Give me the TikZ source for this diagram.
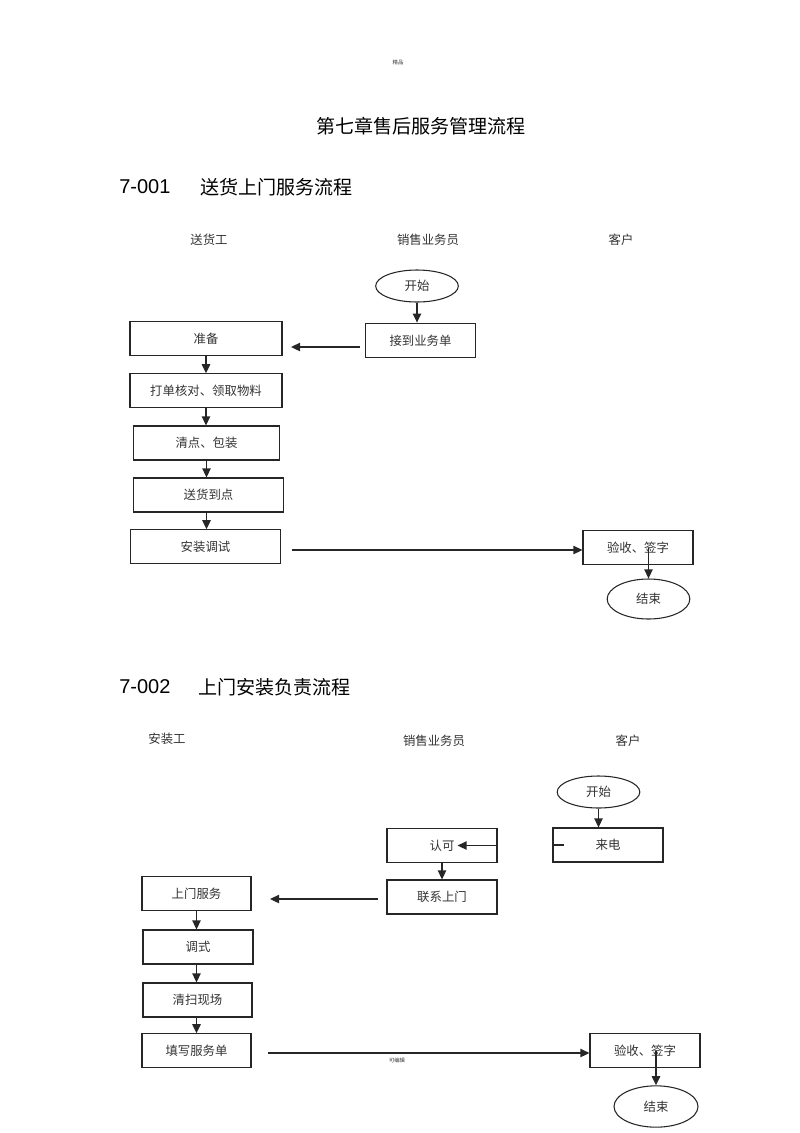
\documentclass[tikz,border=0pt]{standalone}
\usepackage{fontspec}
\setmainfont{Liberation Sans}
\newfontfamily\cjk{Noto Sans CJK SC}
\usetikzlibrary{shapes.geometric,arrows.meta}

\begin{document}
\begin{tikzpicture}[x=0.75pt,y=-0.75pt]
    \tikzstyle{every node}=[inner sep=0pt,font=\cjk\fontsize{9.3pt}{11pt}\selectfont,text=black!80]
    \tikzstyle{box}=[rectangle,draw=black!85,line width=0.8pt,minimum width=82.5pt,minimum height=25pt]
    \tikzstyle{term}=[ellipse,draw=black!85,line width=0.8pt,minimum width=62pt,minimum height=24pt]
    \tikzstyle{lane}=[font=\cjk\fontsize{9.3pt}{11pt}\selectfont]
    \tikzstyle{head}=[font=\fontsize{15pt}{18pt}\selectfont,text=black,anchor=west]
    \tikzstyle{arr}=[-{Triangle[length=6.8pt,width=6.2pt]},line width=1.2pt,black!85]
    \useasboundingbox (0,0) rectangle (800,1133);

    \node[font=\cjk\fontsize{4pt}{5pt}\selectfont] (mark) at (398,62) {精品};
    \node[font=\cjk\fontsize{14.3pt}{17pt}\selectfont,text=black] (title) at (421,126) {第七章售后服务管理流程};

    % 7-001
    \node[head] (num1) at (119,187) {7-001};
    \node[head,font=\cjk\fontsize{14.3pt}{17pt}\selectfont] (name1) at (200,187) {送货上门服务流程};
    \node[lane] (laneA1) at (209,240) {送货工};
    \node[lane] (laneB1) at (428,240) {销售业务员};
    \node[lane] (laneC1) at (621,240) {客户};

    \node[term] (start1) at (417,286) {开始};
    \node[box,minimum height=26pt] (order) at (420.5,340.5) {接到业务单};
    \node[box,minimum width=114pt] (prep) at (206,338.5) {准备};
    \node[box,minimum width=114pt] (check) at (206,390.5) {打单核对、领取物料};
    \node[box,minimum width=110pt,minimum height=25.5pt] (pack) at (206.5,443) {清点、包装};
    \node[box,minimum width=113pt,minimum height=25.5pt] (deliver) at (208.5,495) {送货到点};
    \node[box,minimum width=112pt] (install) at (205.5,546.5) {安装调试};
    \node[box] (accept1) at (638,547.5) {验收、签字};
    \node[term,minimum height=30pt] (end1) at (648.5,599) {结束};
    \coordinate (o1) at (360,347);
    \coordinate (o2) at (291,347);
    \coordinate (i1) at (292,550);

    \draw[arr] (start1.south) -- (start1.south |- order.north);
    \draw[arr] (o1) -- (o2);
    \draw[arr] (prep.south) -- (prep.south |- check.north);
    \draw[arr] (check.south) -- (check.south |- pack.north);
    \draw[arr] (pack.south) -- (pack.south |- deliver.north);
    \draw[arr] (deliver.south -| pack.south) -- (pack.south |- install.north);
    \draw[arr] (i1) -- (i1 -| accept1.west);
    \draw[arr] (end1.north |- accept1.center) -- (end1.north);

    % 7-002
    \node[head] (num2) at (119,687) {7-002};
    \node[head,font=\cjk\fontsize{14.3pt}{17pt}\selectfont] (name2) at (198,687) {上门安装负责流程};
    \node[lane] (laneA2) at (167,739) {安装工};
    \node[lane] (laneB2) at (434,741) {销售业务员};
    \node[lane] (laneC2) at (628,741) {客户};

    \node[term] (start2) at (598.5,792) {开始};
    \node[box,minimum height=25.5pt] (call) at (608,845) {来电};
    \node[box] (approve) at (442,845.5) {认可};
    \node[box,minimum height=25.5pt] (contact) at (442,897) {联系上门};
    \node[box,minimum width=81.75pt] (visit) at (196.5,893.5) {上门服务};
    \node[box,minimum height=25.5pt] (debug) at (198,947) {调式};
    \node[box,minimum width=81.75pt,minimum height=25.5pt] (clean) at (197.5,1000) {清扫现场};
    \node[box,minimum width=81.75pt] (form) at (196.5,1050.5) {填写服务单};
    \node[box] (accept2) at (645,1050.5) {验收、签字};
    \node[term,minimum width=63pt,minimum height=31pt] (end2) at (656,1106.5) {结束};
    \node[font=\cjk\fontsize{4pt}{5pt}\selectfont] (mark2) at (397,1060) {可编辑};
    \coordinate (c1) at (378,899);
    \coordinate (c2) at (270,899);
    \coordinate (f1) at (268,1053);

    \draw[arr] (start2.south) -- (start2.south |- call.north);
    \draw[line width=1.2pt,black!85] (call.west) -- ++(12,0);
    \draw[arr] (approve.east) -- ++(-40,0);
    \draw[arr] (approve.south) -- (approve.south |- contact.north);
    \draw[arr] (c1) -- (c2);
    \draw[arr] (visit.south) -- (visit.south |- debug.north);
    \draw[arr] (debug.south -| visit.south) -- (visit.south |- clean.north);
    \draw[arr] (clean.south -| visit.south) -- (visit.south |- form.north);
    \draw[arr] (f1) -- (f1 -| accept2.west);
    \draw[arr] (end2.north |- accept2.center) -- (end2.north);
\end{tikzpicture}
\end{document}
